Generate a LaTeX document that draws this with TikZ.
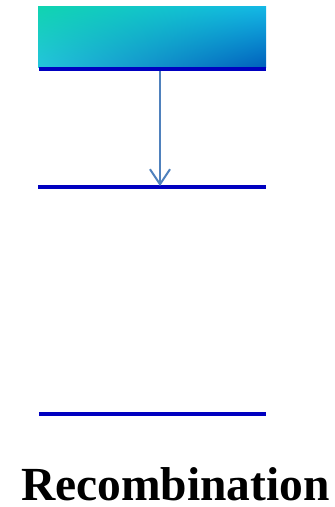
\documentclass[tikz,border=0pt]{standalone}
\usepackage{fontspec}
\setmainfont{Liberation Serif}
\usetikzlibrary{arrows.meta,shadings}
\definecolor{bar}{HTML}{0000C0}
\definecolor{arr}{HTML}{4F81BD}
\definecolor{cUL}{HTML}{10D4B0}
\definecolor{cUR}{HTML}{14B8E6}
\definecolor{cLL}{HTML}{24C4DC}
\definecolor{cLR}{HTML}{0060BC}
\tikzset{
  barline/.style={draw=bar, line width=4pt},
  link/.style={draw=arr, line width=2pt, -{Straight Barb[length=15pt,width=20pt,line width=2pt]}},
  title/.style={font=\bfseries\fontsize{47.5}{52}\selectfont, text=black, inner sep=0pt}
}
\begin{document}
\begin{tikzpicture}[x=1pt,y=-1pt]
\useasboundingbox (0,0) rectangle (335,507);
\shade[upper left=cUL, upper right=cUR, lower left=cLL, lower right=cLR] (38,6) rectangle (266,67);
\coordinate (l1a) at (39,69); \coordinate (l1b) at (266,69);
\coordinate (l2a) at (38,187); \coordinate (l2b) at (266,187);
\coordinate (l3a) at (39,414); \coordinate (l3b) at (266,414);
\draw[barline] (l1a) -- (l1b);
\draw[barline] (l2a) -- (l2b);
\draw[barline] (l3a) -- (l3b);
\coordinate (s) at (160,71);
\coordinate (e) at (160,186);
\draw[link] (s) -- (e);
\node[title, anchor=base] (t) at (175.5,500) {Recombination};
\end{tikzpicture}
\end{document}
